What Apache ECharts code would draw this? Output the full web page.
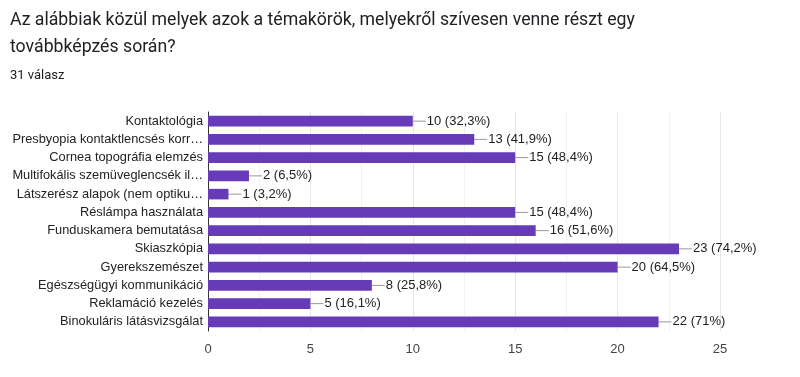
<!DOCTYPE html>
<html>
<head>
<meta charset="utf-8">
<script src="https://cdn.jsdelivr.net/npm/echarts@6/dist/echarts.min.js"></script>
<style>
  html, body { margin: 0; padding: 0; background: #fff; }
  #chart { width: 800px; height: 377px; }
</style>
</head>
<body>
<div id="chart"></div>
<script>
var categories = [
    'Kontaktológia',
    'Presbyopia kontaktlencsés korr…',
    'Cornea topográfia elemzés',
    'Multifokális szemüveglencsék il…',
    'Látszerész alapok (nem optiku…',
    'Réslámpa használata',
    'Funduskamera bemutatása',
    'Skiaszkópia',
    'Gyerekszemészet',
    'Egészségügyi kommunikáció',
    'Reklamáció kezelés',
    'Binokuláris látásvizsgálat'
];
var counts = [10, 13, 15, 2, 1, 15, 16, 23, 20, 8, 5, 22];
var percents = ['32,3%', '41,9%', '48,4%', '6,5%', '3,2%', '48,4%', '51,6%', '74,2%', '64,5%', '25,8%', '16,1%', '71%'];

var font = 'Arial, "Liberation Sans", sans-serif';

var dom = document.getElementById('chart');
var myChart = echarts.init(dom);
var option = {
    title: [{
        text: 'Az alábbiak közül melyek azok a témakörök, melyekről szívesen venne részt egy\ntovábbképzés során?',
        left: 10,
        top: 7,
        padding: 0,
        textStyle: {
            fontFamily: 'Roboto, Arial, sans-serif',
            fontSize: 17.7,
            fontWeight: 'normal',
            color: '#202124',
            lineHeight: 27
        }
    }, {
        text: '31 válasz',
        left: 10,
        top: 69,
        padding: 0,
        textStyle: {
            fontFamily: 'Roboto, Arial, sans-serif',
            fontSize: 13,
            fontWeight: 'normal',
            color: '#202124'
        }
    }],
    grid: {
        left: 208,
        right: 80,
        top: 112,
        bottom: 46
    },
    xAxis: {
        type: 'value',
        min: 0,
        max: 25,
        interval: 5,
        axisLine: { show: false },
        axisTick: { show: false },
        axisLabel: {
            fontFamily: font,
            fontSize: 13,
            color: '#444',
            margin: 12
        },
        splitLine: { lineStyle: { color: '#e6e6e6', width: 1 } },
        minorTick: { show: false, splitNumber: 2 },
        minorSplitLine: { show: true, lineStyle: { color: '#f2f2f2', width: 1 } }
    },
    yAxis: {
        type: 'category',
        inverse: true,
        data: categories,
        axisLine: { show: true, lineStyle: { color: '#333', width: 1 } },
        axisTick: { show: false },
        axisLabel: {
            fontFamily: font,
            fontSize: 12.8,
            color: '#222',
            margin: 5
        }
    },
    series: [{
        type: 'bar',
        data: counts,
        barCategoryGap: '42%',
        itemStyle: { color: '#673ab7' },
        silent: true
    }, {
        type: 'custom',
        silent: true,
        data: counts.map(function (v, i) { return [v, i]; }),
        renderItem: function (params, api) {
            var p = api.coord([api.value(0), api.value(1)]);
            var i = params.dataIndex;
            return {
                type: 'group',
                children: [{
                    type: 'line',
                    shape: { x1: p[0], y1: p[1], x2: p[0] + 13, y2: p[1] },
                    style: { stroke: '#999', lineWidth: 1 }
                }, {
                    type: 'text',
                    x: p[0] + 14,
                    y: p[1],
                    style: {
                        text: counts[i] + ' (' + percents[i] + ')',
                        fontFamily: font,
                        fontSize: 13,
                        fill: '#222',
                        verticalAlign: 'middle',
                        align: 'left'
                    }
                }]
            };
        }
    }]
};
myChart.setOption(option, true);
</script>
</body>
</html>
